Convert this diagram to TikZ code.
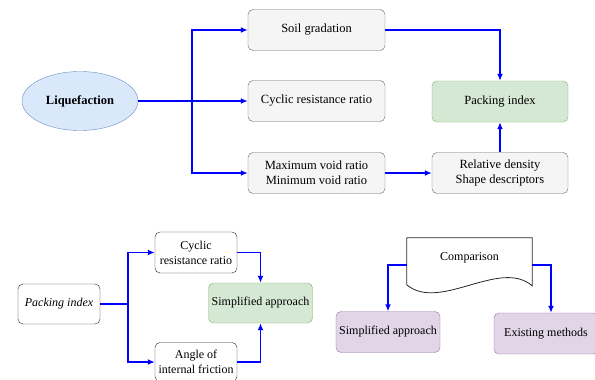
\documentclass[tikz,border=0pt]{standalone}
\usepackage{fontspec}
\setmainfont{Liberation Serif}
\usepackage{tikz}
\usetikzlibrary{shapes.geometric,arrows.meta,positioning}
\definecolor{boxgray}{HTML}{F5F5F5}
\definecolor{linegray}{HTML}{666666}
\definecolor{boxgreen}{HTML}{D5E8D4}
\definecolor{linegreen}{HTML}{82B366}
\definecolor{boxblue}{HTML}{DAE8FC}
\definecolor{lineblue}{HTML}{6C8EBF}
\definecolor{boxpurple}{HTML}{E1D5E7}
\definecolor{linepurple}{HTML}{9673A6}
\tikzset
{
    basebox/.style  = {rectangle, rounded corners=5pt, align=center, inner sep=2pt, font=\fontsize{12}{15}\selectfont},
    factor/.style   = {basebox, draw=linegray, fill=boxgray, minimum width=137pt, minimum height=41pt, font=\fontsize{12.5}{15}\selectfont},
    target/.style   = {basebox, draw=linegreen, fill=boxgreen, minimum width=136pt, minimum height=41pt},
    plainbox/.style = {basebox, draw=black!85, fill=white, minimum width=82pt, minimum height=40pt},
    method/.style   = {basebox, draw=linepurple, fill=boxpurple, minimum height=41pt},
    topic/.style    = {ellipse, draw=lineblue, fill=boxblue, minimum width=116pt, minimum height=59pt, inner sep=0pt, font=\fontsize{12.5}{15}\selectfont\bfseries},
    link/.style     = {draw=blue, line width=1.8pt, -{Latex[length=7pt,width=6pt]}},
    docline/.style  = {draw=black!85, line width=0.8pt}
}

\begin{document}
\begin{tikzpicture}[x=1pt, y=-1pt]
\useasboundingbox (0,0) rectangle (595,380);

% upper part
\node[topic] (liq) at (80,101) {Liquefaction};
\node[factor] (soil) at (316.5,30) {Soil gradation};
\node[factor] (crr) at (316.5,101) {Cyclic resistance ratio};
\node[factor] (voids) at (316.5,173) {Maximum void ratio\\Minimum void ratio};
\node[target, font=\fontsize{12.5}{15}\selectfont] (pack) at (500,101.5) {Packing index};
\node[factor, minimum width=136pt] (rel) at (500,173) {Relative density\\Shape descriptors};

\coordinate (split) at (192,101);
\draw[link] (liq.east) -- (crr.west);
\draw[link] (split) |- (soil.west);
\draw[link] (split) |- (voids.west);
\draw[link] (soil.east) -| (pack.north);
\draw[link] (voids.east) -- (rel.west);
\draw[link] (rel.north) -- (pack.south);

% lower left part
\node[plainbox, font=\fontsize{12}{15}\selectfont\itshape] (pidx) at (59,304) {Packing index};
\node[plainbox, minimum height=41pt] (crr2) at (196,252.5) {Cyclic\\resistance ratio};
\node[plainbox, minimum height=39pt] (phi) at (196,362) {Angle of\\internal friction};
\node[target, minimum width=104pt, minimum height=40pt] (simp) at (260.5,303) {Simplified approach};

\coordinate (fork) at (128,304);
\draw[draw=blue, line width=1.8pt] (pidx.east) -- (fork);
\draw[link] (fork) |- (crr2.west);
\draw[link] (fork) |- (phi.west);
\draw[link] (crr2.east) -| (simp.north);
\draw[link] (phi.east) -| (simp.south);

% lower right part
\node[rectangle, minimum width=125pt, minimum height=54pt, text depth=16pt, font=\fontsize{12}{15}\selectfont] (comp) at (469.5,265) {Comparison};
\draw[docline] (comp.south west) ++(0,-7) -- (comp.north west) -- (comp.north east) -- ++(0,48)
    .. controls (500,258) and (440,312) .. (407,285);
\node[method, minimum width=104pt] (simp2) at (388,332) {Simplified approach};
\node[method, minimum width=104pt] (exist) at (546,333.5) {Existing methods};

\draw[link] (comp.west) -| (simp2.north);
\draw[link] (comp.east) -| ([xshift=5pt]exist.north);
\end{tikzpicture}
\end{document}
